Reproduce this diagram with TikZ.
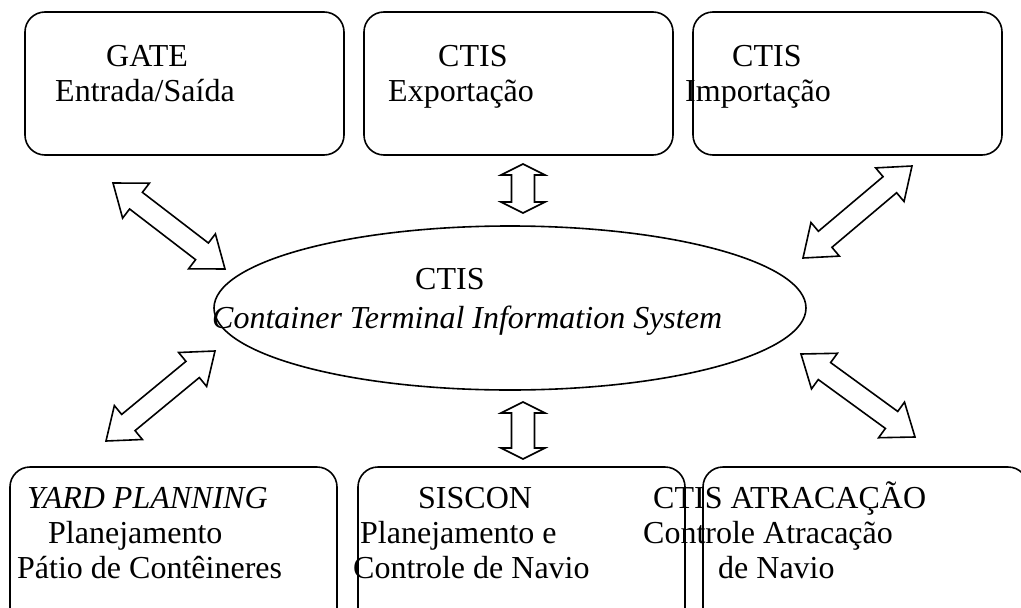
\documentclass[tikz,border=0pt]{standalone}
\usepackage{fontspec}
\setmainfont{Liberation Serif}
\usetikzlibrary{calc,shapes.geometric}
\tikzset{
  sysbox/.style={draw, line width=1.6pt, rounded corners=20pt, inner sep=0pt},
  sysell/.style={draw, ellipse, line width=1.6pt, inner sep=0pt},
  lbl/.style={anchor=base west, inner sep=0pt, font=\fontsize{32}{36}\selectfont},
  ilbl/.style={lbl, font=\fontsize{32}{36}\selectfont\itshape},
  barrow/.style={draw, line width=1.6pt, line join=miter, fill=white}
}
\newcommand\blockarrow[5]{%
  \coordinate (bh1) at ($(#1)!#3!(#2)$);
  \coordinate (bh2) at ($(#2)!#3!(#1)$);
  \draw[barrow] (#1) -- ($(bh1)!#4!90:(#2)$) -- ($(bh1)!#5!90:(#2)$)
    -- ($(bh2)!#5!-90:(#1)$) -- ($(bh2)!#4!-90:(#1)$) -- (#2)
    -- ($(bh2)!#4!90:(#1)$) -- ($(bh2)!#5!90:(#1)$)
    -- ($(bh1)!#5!-90:(#2)$) -- ($(bh1)!#4!-90:(#2)$) -- cycle;
}
\begin{document}
\begin{tikzpicture}[x=1pt,y=-1pt]
\useasboundingbox (0,0) rectangle (1021,608);
\clip (0,0) rectangle (1021,608);
% top boxes
\node[sysbox, minimum width=319pt, minimum height=143pt] (gate) at (184.5,83.5) {};
\node[sysbox, minimum width=309pt, minimum height=143pt] (exp) at (518.5,83.5) {};
\node[sysbox, minimum width=309pt, minimum height=143pt] (imp) at (847.5,83.5) {};
% bottom boxes
\node[sysbox, minimum width=327pt, minimum height=180pt] (yard) at (173.5,557) {};
\node[sysbox, minimum width=327pt, minimum height=180pt] (siscon) at (521.5,557) {};
\node[sysbox, minimum width=325pt, minimum height=180pt] (atrac) at (865.5,557) {};
% ellipse
\node[sysell, minimum width=592pt, minimum height=164pt] (ctis) at (510,308) {};
% texts
\node[lbl] (t1a) at (106,66) {GATE};
\node[lbl] (t1b) at (55,101) {Entrada/Saída};
\node[lbl] (t2a) at (438,66) {CTIS};
\node[lbl] (t2b) at (388,101) {Exportação};
\node[lbl] (t3a) at (732,66) {CTIS};
\node[lbl] (t3b) at (685,101) {Importação};
\node[lbl] (tca) at (415,289) {CTIS};
\node[ilbl] (tcb) at (212,328) {Container Terminal Information System};
\node[ilbl] (t4a) at (27,508) {YARD PLANNING};
\node[lbl] (t4b) at (48,543) {Planejamento};
\node[lbl] (t4c) at (17,578) {Pátio de Contêineres};
\node[lbl] (t5a) at (418,508) {SISCON};
\node[lbl] (t5b) at (360,543) {Planejamento e};
\node[lbl] (t5c) at (353,578) {Controle de Navio};
\node[lbl] (t6a) at (653,508) {CTIS ATRACAÇÃO};
\node[lbl] (t6b) at (643,543) {Controle Atracação};
\node[lbl] (t6c) at (718,578) {de Navio};
% arrow end points
\coordinate (a1s) at (113,183); \coordinate (a1e) at (225,269);
\coordinate (a2s) at (523,164); \coordinate (a2e) at (523,213);
\coordinate (a3s) at (912,166); \coordinate (a3e) at (803,258);
\coordinate (a4s) at (215,351); \coordinate (a4e) at (106,441);
\coordinate (a5s) at (523,402); \coordinate (a5e) at (523,459);
\coordinate (a6s) at (801,354); \coordinate (a6e) at (915,437);
\blockarrow{a1s}{a1e}{29pt}{22pt}{10.5pt}
\blockarrow{a2s}{a2e}{11pt}{22pt}{11.5pt}
\blockarrow{a3s}{a3e}{29pt}{22pt}{10.5pt}
\blockarrow{a4s}{a4e}{29pt}{22pt}{10.5pt}
\blockarrow{a5s}{a5e}{11pt}{22pt}{11.5pt}
\blockarrow{a6s}{a6e}{29pt}{22pt}{10.5pt}
\end{tikzpicture}
\end{document}
